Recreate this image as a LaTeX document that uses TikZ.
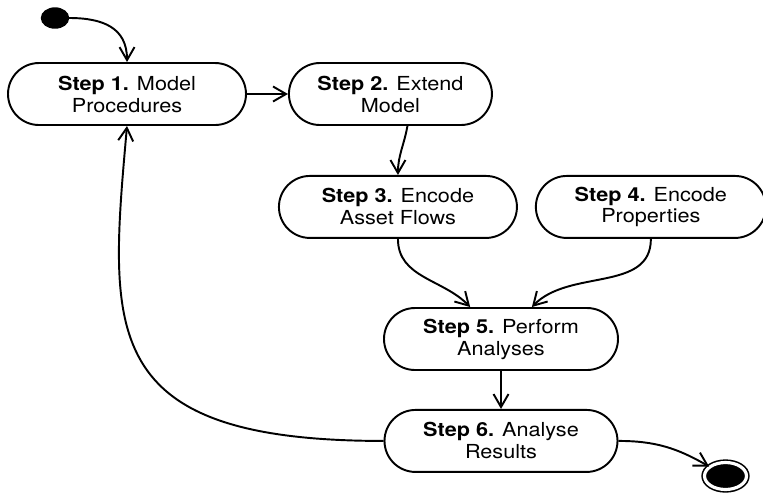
\documentclass[tikz,border=0pt]{standalone}
\usepackage{fontspec}
\setmainfont{TeX Gyre Heros}[FakeStretch=1.12]
\usetikzlibrary{shapes.geometric,shapes.misc,arrows.meta,positioning}

\begin{document}
\begin{tikzpicture}[node distance=1cm,auto,
  >={Straight Barb[length=2.6mm,width=3mm]},
  stepbox/.style={rounded rectangle, draw, line width=1.1pt, inner sep=0pt,
    minimum height=1.24cm, align=center, font=\fontsize{11}{12.5}\selectfont},
  flow/.style={draw, line width=1.1pt, ->}]
\useasboundingbox (0,0) rectangle (15.26,-9.86);
\node[ellipse, fill=black, draw, line width=0.8pt, minimum width=0.54cm, minimum height=0.4cm] (start) at (1.1,-0.36) {};
\node[stepbox, minimum width=4.76cm] (s1) at (2.54,-1.88) {\textbf{Step 1.} Model\\Procedures};
\node[stepbox, minimum width=4.06cm, right=0.82cm of s1] (s2) {\textbf{Step 2.} Extend\\Model};
\node[stepbox, minimum width=4.76cm, below=0.98cm of s2, xshift=0.15cm] (s3) {\textbf{Step 3.} Encode\\Asset Flows};
\node[stepbox, minimum width=4.6cm, right=0.34cm of s3] (s4) {\textbf{Step 4.} Encode\\Properties};
\node[stepbox, minimum width=4.68cm] (s5) at (10.02,-6.78) {\textbf{Step 5.} Perform\\Analyses};
\node[stepbox, minimum width=4.66cm, below=0.76cm of s5] (s6) {\textbf{Step 6.} Analyse\\Results};
\node[ellipse, fill=black, draw, double=white, double distance=1.8pt, line width=0.9pt, minimum width=0.84cm, minimum height=0.54cm] (end) at (14.51,-9.52) {};
\path[flow] (start) to[out=0,in=90,looseness=1.2] (s1);
\path[flow] (s1) to[out=0,in=180] (s2);
\path[flow] (s2.-62) to[out=-100,in=90] (s3);
\path[flow] (s3) to[out=-90,in=134] (s5);
\path[flow] (s4) to[out=-90,in=46] (s5);
\path[flow] (s5) to[out=-90,in=90] (s6);
\path[flow] (s6.west) .. controls +(-5.74,0) and +(-0.36,-4.1) .. (s1.south);
\path[flow] (s6) to[out=0,in=150] (end);
\end{tikzpicture}
\end{document}
